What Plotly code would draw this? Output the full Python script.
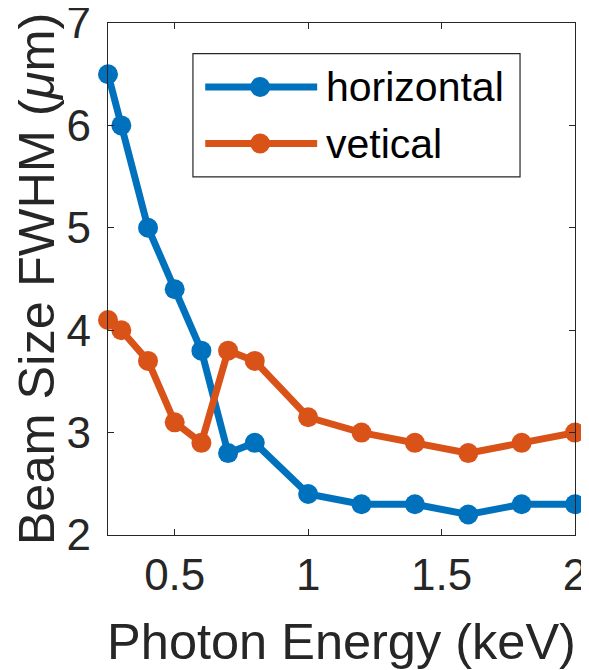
import plotly.graph_objects as go

energy = [0.25, 0.3, 0.4, 0.5, 0.6, 0.7, 0.8, 1.0, 1.2, 1.4, 1.6, 1.8, 2.0]
horizontal = [6.5, 6.0, 5.0, 4.4, 3.8, 2.8, 2.9, 2.4, 2.3, 2.3, 2.2, 2.3, 2.3]
vertical = [4.1, 4.0, 3.7, 3.1, 2.9, 3.8, 3.7, 3.15, 3.0, 2.9, 2.8, 2.9, 3.0]
series_names = ["horizontal", "vetical"]
x_ticks = [0.5, 1, 1.5, 2]
x_ticklabels = ["0.5", "1", "1.5", "2"]
y_ticks = [2, 3, 4, 5, 6, 7]

BLUE = "#0072BD"
ORANGE = "#D95319"
TXT = "#262626"
FONT = "Liberation Sans"

fig = go.Figure()
for vals, col, name in [(horizontal, BLUE, series_names[0]), (vertical, ORANGE, series_names[1])]:
    fig.add_trace(go.Scatter(
        x=energy, y=vals, name=name, mode="lines+markers",
        line=dict(color=col, width=7),
        marker=dict(color=col, size=20, line=dict(color=col, width=0)),
        cliponaxis=False, showlegend=False,
    ))

# manual MATLAB-style legend
lx0, lx1, ly0, ly1 = 0.1819, 0.8823, 0.6994, 0.9403
shapes = [dict(type="rect", xref="paper", yref="paper", x0=lx0, x1=lx1, y0=ly0, y1=ly1,
               line=dict(color=TXT, width=1.2), fillcolor="white", layer="above")]
annotations = []
for yy, col, name in [(0.8751, BLUE, series_names[0]), (0.7646, ORANGE, series_names[1])]:
    shapes.append(dict(type="line", xref="paper", yref="paper", x0=0.2082, x1=0.4479, y0=yy, y1=yy,
                       line=dict(color=col, width=7), layer="above"))
    shapes.append(dict(type="circle", xref="paper", yref="paper", xsizemode="pixel", ysizemode="pixel",
                       xanchor=0.3259, yanchor=yy, x0=-10, x1=10, y0=-10, y1=10,
                       fillcolor=col, line=dict(color=col, width=0), layer="above"))
    annotations.append(dict(xref="paper", yref="paper", x=0.4622, y=yy, text=name, showarrow=False,
                            xanchor="left", yanchor="middle", font=dict(family=FONT, size=41, color="black")))

# page body has an 8px default margin: size the figure to fit inside the window
fig.update_layout(
    width=581, height=662,
    margin=dict(l=100, r=14, t=15, b=135),
    paper_bgcolor="white", plot_bgcolor="white",
    font=dict(family=FONT, color=TXT),
    shapes=shapes, annotations=annotations,
    xaxis=dict(range=[0.25, 2], tickvals=x_ticks, ticktext=x_ticklabels, automargin=False,
               showline=True, mirror="allticks", linecolor=TXT, linewidth=1.2,
               ticks="inside", ticklen=6, tickcolor=TXT, tickwidth=1.2,
               showgrid=False, zeroline=False, tickfont=dict(size=44, color=TXT),
               ticklabelstandoff=1, ticklabeloverflow="allow",
               title=dict(text="Photon Energy (keV)", font=dict(size=50.5, color=TXT), standoff=26)),
    yaxis=dict(range=[2, 7], tickvals=y_ticks, automargin=False,
               showline=True, mirror="allticks", linecolor=TXT, linewidth=1.2,
               ticks="inside", ticklen=6, tickcolor=TXT, tickwidth=1.2,
               showgrid=False, zeroline=False, tickfont=dict(size=44, color=TXT),
               ticklabelstandoff=7, ticklabeloverflow="allow",
               title=dict(text="Beam Size FWHM (<i>μ</i>m)", font=dict(size=50.5, color=TXT), standoff=2)),
)

fig.write_html("out.html")
